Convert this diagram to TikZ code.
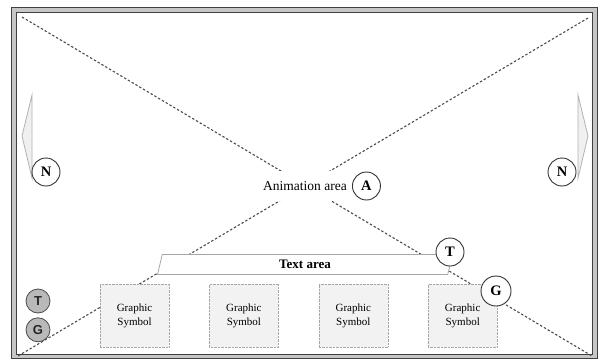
\documentclass[tikz,border=0pt]{standalone}
\usepackage{fontspec}
\setmainfont{Liberation Serif}
\setsansfont{Liberation Sans}
\usetikzlibrary{shapes.geometric, positioning}

\begin{document}
\begin{tikzpicture}[
    x=1pt, y=-1pt, node distance=40pt,
    guide/.style={dash pattern=on 2.4pt off 2pt, line width=1.1pt, black!70},
    navarrow/.style={draw=gray!60, fill=gray!12, line width=0.8pt},
    badge/.style={circle, draw=black!80, line width=0.9pt, fill=white, minimum size=28pt, inner sep=0pt, font=\fontsize{14.5}{16}\selectfont\bfseries},
    smallbadge/.style={circle, draw=gray!60!black, line width=0.8pt, fill=gray!55, minimum size=24pt, inner sep=0pt, font=\sffamily\fontsize{13}{14}\selectfont\bfseries, text=black!85},
    symbolbox/.style={rectangle, draw=gray!70, densely dotted, fill=gray!10, minimum width=69pt, minimum height=63pt, align=center, font=\fontsize{11}{14}\selectfont},
    textbar/.style={trapezium, trapezium left angle=61, trapezium right angle=119, trapezium stretches body, draw=gray!70, line width=0.8pt, fill=white, minimum width=295pt, minimum height=20pt, inner sep=0pt, font=\fontsize{13}{15}\selectfont\bfseries}
]
    \useasboundingbox (0,0) rectangle (601,361);
    \draw[line width=1pt, black!75, fill=gray!45] (11.5,7.5) rectangle (597,358.5);
    \draw[line width=1pt, black!75, fill=white] (16,13) rectangle (592,354);

    \coordinate (topleft) at (22,17);
    \coordinate (topright) at (588,18);
    \coordinate (bottomleft) at (18,356);
    \coordinate (bottomright) at (592,356);
    \draw[guide] (topleft) -- (bottomright);
    \draw[guide] (topright) -- (bottomleft);

    \draw[navarrow] (32,95) -- (22,136) -- (32,178) -- cycle;
    \draw[navarrow] (578,95) -- (588,136) -- (578,178) -- cycle;
    \node[badge] (navleft) at (46,172) {N};
    \node[badge] (navright) at (562,172) {N};

    \node[fill=white, minimum height=30pt, inner sep=2pt, font=\fontsize{13.5}{16}\selectfont] (anim) at (305,186) {Animation area};
    \node[badge, right=3pt of anim] (animbadge) {A};

    \node[textbar] (textarea) at (305,264.5) {Text area};
    \node[badge] (textbadge) at (450,252) {T};

    \node[symbolbox] (sym1) at (134.5,315.5) {Graphic\\Symbol};
    \node[symbolbox, right=of sym1] (sym2) {Graphic\\Symbol};
    \node[symbolbox, right=of sym2] (sym3) {Graphic\\Symbol};
    \node[symbolbox, right=of sym3] (sym4) {Graphic\\Symbol};
    \node[badge, minimum size=30pt] (symbadge) at (496,291) {G};

    \node[smallbadge] (legendT) at (38,301) {T};
    \node[smallbadge, below=4pt of legendT] (legendG) {G};
\end{tikzpicture}
\end{document}
